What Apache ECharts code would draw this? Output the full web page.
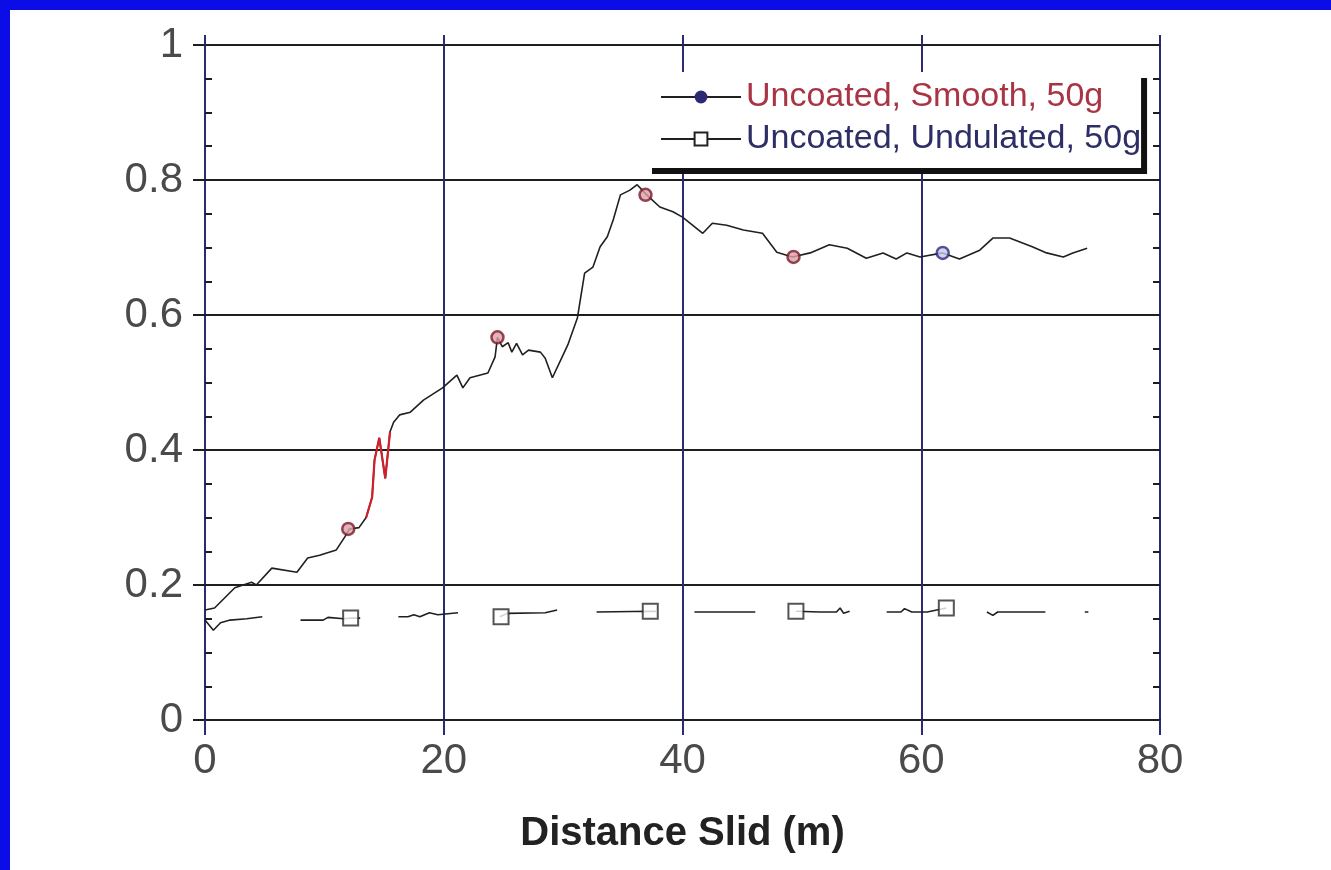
<!DOCTYPE html>
<html>
<head>
<meta charset="utf-8">
<script src="https://cdn.jsdelivr.net/npm/echarts@6/dist/echarts.min.js"></script>
<style>
  html, body { margin: 0; padding: 0; background: #0c0ce6; width: 1331px; height: 870px; overflow: hidden; }
  #chart { position: absolute; left: 10px; top: 10px; width: 1321px; height: 860px; background: #fff; }
</style>
</head>
<body>
<div id="chart"></div>
<script>
// x ticks / y ticks
const xTicks = [0, 20, 40, 60, 80];
const yTicks = [0, 0.2, 0.4, 0.6, 0.8, 1];

// Uncoated, Smooth, 50g  (traced curve)
const smoothX = [0, 0.8, 2.5, 3.9, 4.3, 5.6, 7.7, 8.6, 9.6, 11.0, 11.7, 12.1, 12.9, 13.5, 14.0, 14.2, 14.6, 15.1, 15.5, 15.8,
  16.3, 17.2, 18.3, 19.9, 21.1, 21.6, 22.2, 23.7, 24.3, 24.5, 24.9, 25.4, 25.7, 26.1, 26.6, 27.1, 28.1, 28.5, 29.1, 30.0,
  30.4, 31.2, 31.8, 32.5, 33.1, 33.7, 34.2, 34.8, 35.6, 36.2, 37.0, 38.1, 39.2, 40.0, 41.7, 42.5, 43.7, 45.1, 46.7, 47.9,
  49.2, 50.7, 52.3, 53.8, 55.4, 56.8, 57.9, 58.8, 59.9, 61.8, 63.2, 64.9, 66.0, 67.4, 69.3, 70.5, 71.9, 72.7, 73.9];
const smoothY = [0.163, 0.166, 0.196, 0.204, 0.200, 0.225, 0.219, 0.240, 0.244, 0.252, 0.271, 0.283, 0.285, 0.300, 0.330, 0.385, 0.418, 0.358, 0.427, 0.441,
  0.452, 0.456, 0.474, 0.492, 0.511, 0.492, 0.507, 0.514, 0.538, 0.567, 0.553, 0.559, 0.545, 0.558, 0.541, 0.548, 0.545, 0.536, 0.507, 0.541,
  0.556, 0.596, 0.662, 0.671, 0.701, 0.716, 0.741, 0.778, 0.785, 0.793, 0.778, 0.760, 0.753, 0.745, 0.721, 0.736, 0.733, 0.726, 0.721, 0.693,
  0.686, 0.692, 0.704, 0.699, 0.684, 0.692, 0.683, 0.692, 0.686, 0.692, 0.683, 0.696, 0.714, 0.714, 0.701, 0.692, 0.686, 0.692, 0.699];
const smoothMarkX = [12.0, 24.5, 36.9, 49.3, 61.8];
const smoothMarkY = [0.283, 0.567, 0.778, 0.686, 0.692];

// Uncoated, Undulated, 50g  (null = break in the drawn line)
const undulatedX = [0, 0.7, 1.3, 2.1, 3.5, 4.8, 6,
  8.0, 9.9, 10.3, 11.6, 12.3, 13.0, 14,
  16.2, 17.0, 17.5, 18.0, 18.8, 19.5, 21.2, 23,
  24.7, 25.3, 28.5, 29.5, 31,
  32.8, 37.3, 37.8, 39,
  41.0, 46.1, 48,
  49.5, 51.5, 52.9, 53.2, 53.5, 54.0, 55,
  57.1, 58.3, 58.6, 59.2, 60.5, 62.1, 64,
  65.5, 66.0, 66.4, 70.4, 72,
  73.7, 74.0];
const undulatedY = [0.148, 0.133, 0.144, 0.148, 0.150, 0.153, null,
  0.148, 0.148, 0.152, 0.150, 0.151, 0.151, null,
  0.153, 0.153, 0.156, 0.153, 0.159, 0.156, 0.159, null,
  0.153, 0.158, 0.159, 0.163, null,
  0.160, 0.161, 0.161, null,
  0.160, 0.160, null,
  0.161, 0.160, 0.160, 0.166, 0.158, 0.161, null,
  0.160, 0.160, 0.165, 0.160, 0.160, 0.166, null,
  0.160, 0.155, 0.160, 0.160, null,
  0.160, 0.160];
const undulatedMarkX = [12.2, 24.8, 37.3, 49.5, 62.1];
const undulatedMarkY = [0.151, 0.153, 0.161, 0.161, 0.166];

const zip = (xs, ys) => xs.map((x, i) => [x, ys[i]]);

const chart = echarts.init(document.getElementById('chart'));
const FONT = 'Liberation Sans, Arial, sans-serif';
const NAVY = '#2c2a72';
const DARK = '#1e1e1e';

const baseY = {
  type: 'value', min: yTicks[0], max: yTicks[yTicks.length - 1], interval: 0.2,
  axisLabel: { show: false }, splitLine: { show: false }, axisLine: { show: false }, axisTick: { show: false }
};
const baseX = {
  type: 'value', min: xTicks[0], max: xTicks[xTicks.length - 1], interval: 20,
  axisLabel: { show: false }, splitLine: { show: false }, axisLine: { show: false }, axisTick: { show: false }
};

chart.setOption({
  animation: false,
  backgroundColor: '#fff',
  grid: { left: 195, top: 35, width: 955, height: 675, containLabel: false },
  legend: {
    left: 636, top: 62,
    orient: 'vertical',
    selectedMode: false,
    itemWidth: 80, itemHeight: 16, itemGap: 8,
    padding: [8, 0, 12, 14],
    backgroundColor: '#fff',
    borderWidth: 0,
    shadowColor: '#111', shadowBlur: 0, shadowOffsetX: 6, shadowOffsetY: 6,
    textStyle: { fontFamily: FONT, fontSize: 34 },
    data: [
      { name: 'Uncoated, Smooth, 50g', textStyle: { color: '#a83444' } },
      { name: 'Uncoated, Undulated, 50g', textStyle: { color: '#2e2e66' } }
    ],
    z: 20
  },
  xAxis: [
    Object.assign({}, baseX, {
      position: 'bottom',
      axisLine: { show: true, onZero: false, lineStyle: { color: DARK, width: 2 } },
      axisTick: { show: true, length: 15, lineStyle: { color: NAVY, width: 2 } },
      splitLine: { show: true, lineStyle: { color: NAVY, width: 2 } },
      axisLabel: { show: true, fontFamily: FONT, fontSize: 42, color: '#4a4a4a', margin: 20 },
      name: 'Distance Slid (m)',
      nameLocation: 'middle',
      nameGap: 94,
      nameTextStyle: { fontFamily: FONT, fontSize: 40, fontWeight: 'bold', color: '#222' }
    }),
    Object.assign({}, baseX, {
      position: 'top',
      axisLine: { show: true, onZero: false, lineStyle: { color: DARK, width: 2 } },
      axisTick: { show: true, length: 10, lineStyle: { color: NAVY, width: 2 } }
    })
  ],
  yAxis: [
    Object.assign({}, baseY, {
      position: 'left',
      axisLine: { show: true, onZero: false, lineStyle: { color: NAVY, width: 2 } },
      axisTick: { show: true, length: 12, lineStyle: { color: DARK, width: 2 } },
      splitLine: { show: true, lineStyle: { color: DARK, width: 2 } },
      axisLabel: { show: true, fontFamily: FONT, fontSize: 42, color: '#4a4a4a', margin: 22 }
    }),
    Object.assign({}, baseY, {
      position: 'right',
      axisLine: { show: true, onZero: false, lineStyle: { color: NAVY, width: 2 } },
      axisTick: { show: true, inside: true, length: 7, lineStyle: { color: DARK, width: 2 } },
      minorTick: { show: true, splitNumber: 4, length: 7, lineStyle: { color: DARK, width: 2 } }
    }),
    Object.assign({}, baseY, {
      position: 'left',
      axisTick: { show: false, inside: true },
      minorTick: { show: true, splitNumber: 4, length: 7, lineStyle: { color: DARK, width: 2 } }
    }),
    Object.assign({}, baseY, {
      position: 'right',
      axisTick: { show: true, length: 8, lineStyle: { color: DARK, width: 2 } }
    })
  ],
  series: [
    {
      name: 'Uncoated, Smooth, 50g',
      type: 'line',
      data: zip(smoothX, smoothY),
      symbol: 'circle', symbolSize: 12, showSymbol: false,
      lineStyle: { color: '#202020', width: 1.6 },
      itemStyle: { color: '#2c2a72', borderColor: '#2c2a72' },
      z: 3
    },
    {
      name: 'smooth-red',
      type: 'line',
      data: zip(smoothX, smoothY).filter(p => p[0] >= 13.5 && p[0] <= 15.5),
      symbol: 'none',
      lineStyle: { color: '#d0202c', width: 2.2 },
      z: 4
    },
    {
      name: 'smooth-marks',
      type: 'scatter',
      data: zip(smoothMarkX, smoothMarkY).map((p, i) => i === smoothMarkX.length - 1
        ? { value: p, itemStyle: { color: '#c8c8e8', borderColor: '#2c2a80' } } : p),
      symbol: 'circle', symbolSize: 12,
      itemStyle: { color: '#dba0a8', borderColor: '#7a1a2a', borderWidth: 2.5 },
      z: 6
    },
    {
      name: 'Uncoated, Undulated, 50g',
      type: 'line',
      data: zip(undulatedX, undulatedY),
      connectNulls: false,
      symbol: 'rect', symbolSize: 12, showSymbol: false,
      lineStyle: { color: '#202020', width: 1.6 },
      itemStyle: { color: '#fff', borderColor: '#222', borderWidth: 2 },
      z: 3
    },
    {
      name: 'undulated-marks',
      type: 'scatter',
      data: zip(undulatedMarkX, undulatedMarkY),
      symbol: 'rect', symbolSize: 15,
      itemStyle: { color: '#fff', borderColor: '#2a2a2a', borderWidth: 2 },
      z: 6
    }
  ]
});
</script>
</body>
</html>
